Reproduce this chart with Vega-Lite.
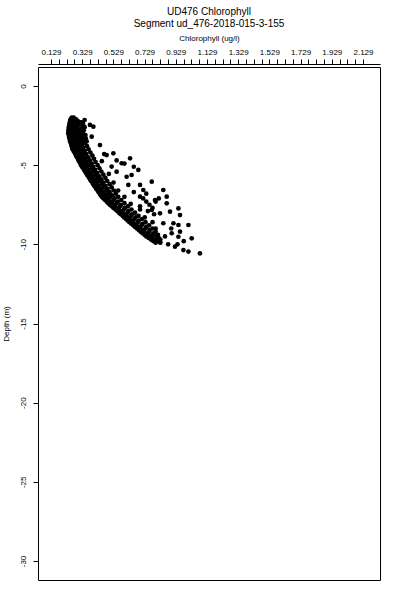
{
  "$schema": "https://vega.github.io/schema/vega-lite/v6.json",
  "width": 342,
  "height": 513,
  "autosize": {"type": "none"},
  "padding": {"left": 38, "top": 67, "right": 20, "bottom": 20},
  "background": "white",
  "title": {
    "text": ["UD476 Chlorophyll", "Segment ud_476-2018-015-3-155"],
    "font": "Liberation Sans",
    "fontSize": 10,
    "fontWeight": "normal",
    "color": "black",
    "lineHeight": 12,
    "anchor": "middle",
    "offset": 5
  },
  "data": {
    "values": [
      {"c": 0.262, "d": -2.0}, {"c": 0.275, "d": -2.0},
      {"c": 0.255, "d": -2.1}, {"c": 0.272, "d": -2.1}, {"c": 0.290, "d": -2.1},
      {"c": 0.252, "d": -2.2}, {"c": 0.270, "d": -2.2}, {"c": 0.300, "d": -2.2},
      {"c": 0.250, "d": -2.3}, {"c": 0.268, "d": -2.3}, {"c": 0.295, "d": -2.3}, {"c": 0.318, "d": -2.3},
      {"c": 0.248, "d": -2.4}, {"c": 0.275, "d": -2.4}, {"c": 0.310, "d": -2.4}, {"c": 0.335, "d": -2.4},
      {"c": 0.246, "d": -2.5}, {"c": 0.262, "d": -2.5}, {"c": 0.290, "d": -2.5}, {"c": 0.330, "d": -2.5},
      {"c": 0.244, "d": -2.6}, {"c": 0.270, "d": -2.6}, {"c": 0.300, "d": -2.6}, {"c": 0.345, "d": -2.6},
      {"c": 0.243, "d": -2.7}, {"c": 0.260, "d": -2.7}, {"c": 0.285, "d": -2.7}, {"c": 0.320, "d": -2.7},
      {"c": 0.242, "d": -2.8}, {"c": 0.268, "d": -2.8}, {"c": 0.305, "d": -2.8}, {"c": 0.340, "d": -2.8},
      {"c": 0.241, "d": -2.9}, {"c": 0.258, "d": -2.9}, {"c": 0.290, "d": -2.9}, {"c": 0.325, "d": -2.9},
      {"c": 0.240, "d": -3.0}, {"c": 0.265, "d": -3.0}, {"c": 0.300, "d": -3.0}, {"c": 0.335, "d": -3.0},
      {"c": 0.244, "d": -3.1}, {"c": 0.275, "d": -3.1}, {"c": 0.310, "d": -3.1}, {"c": 0.350, "d": -3.1},
      {"c": 0.245, "d": -3.2}, {"c": 0.262, "d": -3.2}, {"c": 0.295, "d": -3.2}, {"c": 0.330, "d": -3.2},
      {"c": 0.248, "d": -3.3}, {"c": 0.280, "d": -3.3}, {"c": 0.318, "d": -3.3}, {"c": 0.352, "d": -3.3},
      {"c": 0.250, "d": -3.4}, {"c": 0.270, "d": -3.4}, {"c": 0.300, "d": -3.4}, {"c": 0.340, "d": -3.4},
      {"c": 0.252, "d": -3.5}, {"c": 0.285, "d": -3.5}, {"c": 0.322, "d": -3.5}, {"c": 0.358, "d": -3.5},
      {"c": 0.256, "d": -3.6}, {"c": 0.275, "d": -3.6}, {"c": 0.305, "d": -3.6}, {"c": 0.345, "d": -3.6},
      {"c": 0.260, "d": -3.7}, {"c": 0.290, "d": -3.7}, {"c": 0.330, "d": -3.7},
      {"c": 0.262, "d": -3.8}, {"c": 0.282, "d": -3.8}, {"c": 0.312, "d": -3.8}, {"c": 0.360, "d": -3.8},
      {"c": 0.266, "d": -3.9}, {"c": 0.298, "d": -3.9}, {"c": 0.335, "d": -3.9},
      {"c": 0.268, "d": -4.0}, {"c": 0.290, "d": -4.0}, {"c": 0.322, "d": -4.0}, {"c": 0.370, "d": -4.0},
      {"c": 0.274, "d": -4.1}, {"c": 0.305, "d": -4.1}, {"c": 0.345, "d": -4.1},
      {"c": 0.280, "d": -4.2}, {"c": 0.300, "d": -4.2}, {"c": 0.330, "d": -4.2}, {"c": 0.382, "d": -4.2},
      {"c": 0.286, "d": -4.3}, {"c": 0.315, "d": -4.3}, {"c": 0.355, "d": -4.3},
      {"c": 0.290, "d": -4.4}, {"c": 0.310, "d": -4.4}, {"c": 0.340, "d": -4.4}, {"c": 0.395, "d": -4.4},
      {"c": 0.296, "d": -4.5}, {"c": 0.328, "d": -4.5}, {"c": 0.368, "d": -4.5},
      {"c": 0.302, "d": -4.6}, {"c": 0.322, "d": -4.6}, {"c": 0.352, "d": -4.6}, {"c": 0.405, "d": -4.6},
      {"c": 0.306, "d": -4.7}, {"c": 0.338, "d": -4.7}, {"c": 0.378, "d": -4.7},
      {"c": 0.312, "d": -4.8}, {"c": 0.335, "d": -4.8}, {"c": 0.365, "d": -4.8}, {"c": 0.415, "d": -4.8},
      {"c": 0.318, "d": -4.9}, {"c": 0.350, "d": -4.9}, {"c": 0.390, "d": -4.9},
      {"c": 0.322, "d": -5.0}, {"c": 0.345, "d": -5.0}, {"c": 0.375, "d": -5.0}, {"c": 0.428, "d": -5.0},
      {"c": 0.328, "d": -5.1}, {"c": 0.360, "d": -5.1}, {"c": 0.400, "d": -5.1},
      {"c": 0.336, "d": -5.2}, {"c": 0.358, "d": -5.2}, {"c": 0.390, "d": -5.2}, {"c": 0.440, "d": -5.2},
      {"c": 0.342, "d": -5.3}, {"c": 0.372, "d": -5.3}, {"c": 0.412, "d": -5.3},
      {"c": 0.348, "d": -5.4}, {"c": 0.370, "d": -5.4}, {"c": 0.402, "d": -5.4}, {"c": 0.452, "d": -5.4},
      {"c": 0.354, "d": -5.5}, {"c": 0.385, "d": -5.5}, {"c": 0.425, "d": -5.5},
      {"c": 0.360, "d": -5.6}, {"c": 0.382, "d": -5.6}, {"c": 0.415, "d": -5.6}, {"c": 0.465, "d": -5.6},
      {"c": 0.368, "d": -5.7}, {"c": 0.398, "d": -5.7}, {"c": 0.438, "d": -5.7},
      {"c": 0.374, "d": -5.8}, {"c": 0.395, "d": -5.8}, {"c": 0.428, "d": -5.8}, {"c": 0.478, "d": -5.8},
      {"c": 0.380, "d": -5.9}, {"c": 0.412, "d": -5.9}, {"c": 0.452, "d": -5.9},
      {"c": 0.386, "d": -6.0}, {"c": 0.408, "d": -6.0}, {"c": 0.440, "d": -6.0}, {"c": 0.490, "d": -6.0},
      {"c": 0.394, "d": -6.1}, {"c": 0.425, "d": -6.1}, {"c": 0.465, "d": -6.1},
      {"c": 0.400, "d": -6.2}, {"c": 0.422, "d": -6.2}, {"c": 0.455, "d": -6.2}, {"c": 0.505, "d": -6.2},
      {"c": 0.406, "d": -6.3}, {"c": 0.438, "d": -6.3}, {"c": 0.478, "d": -6.3},
      {"c": 0.414, "d": -6.4}, {"c": 0.435, "d": -6.4}, {"c": 0.468, "d": -6.4}, {"c": 0.518, "d": -6.4},
      {"c": 0.420, "d": -6.5}, {"c": 0.452, "d": -6.5}, {"c": 0.492, "d": -6.5},
      {"c": 0.428, "d": -6.6}, {"c": 0.450, "d": -6.6}, {"c": 0.482, "d": -6.6}, {"c": 0.532, "d": -6.6},
      {"c": 0.434, "d": -6.7}, {"c": 0.466, "d": -6.7}, {"c": 0.506, "d": -6.7},
      {"c": 0.442, "d": -6.8}, {"c": 0.463, "d": -6.8}, {"c": 0.495, "d": -6.8}, {"c": 0.545, "d": -6.8},
      {"c": 0.448, "d": -6.9}, {"c": 0.480, "d": -6.9}, {"c": 0.520, "d": -6.9},
      {"c": 0.455, "d": -7.0}, {"c": 0.478, "d": -7.0}, {"c": 0.510, "d": -7.0}, {"c": 0.560, "d": -7.0},
      {"c": 0.465, "d": -7.1}, {"c": 0.496, "d": -7.1}, {"c": 0.536, "d": -7.1},
      {"c": 0.476, "d": -7.2}, {"c": 0.498, "d": -7.2}, {"c": 0.530, "d": -7.2}, {"c": 0.580, "d": -7.2},
      {"c": 0.486, "d": -7.3}, {"c": 0.518, "d": -7.3}, {"c": 0.558, "d": -7.3},
      {"c": 0.496, "d": -7.4}, {"c": 0.518, "d": -7.4}, {"c": 0.550, "d": -7.4}, {"c": 0.600, "d": -7.4},
      {"c": 0.506, "d": -7.5}, {"c": 0.538, "d": -7.5}, {"c": 0.578, "d": -7.5},
      {"c": 0.518, "d": -7.6}, {"c": 0.540, "d": -7.6}, {"c": 0.572, "d": -7.6}, {"c": 0.622, "d": -7.6},
      {"c": 0.530, "d": -7.7}, {"c": 0.562, "d": -7.7}, {"c": 0.602, "d": -7.7},
      {"c": 0.542, "d": -7.8}, {"c": 0.565, "d": -7.8}, {"c": 0.596, "d": -7.8}, {"c": 0.645, "d": -7.8},
      {"c": 0.554, "d": -7.9}, {"c": 0.585, "d": -7.9}, {"c": 0.625, "d": -7.9},
      {"c": 0.565, "d": -8.0}, {"c": 0.588, "d": -8.0}, {"c": 0.620, "d": -8.0}, {"c": 0.668, "d": -8.0},
      {"c": 0.576, "d": -8.1}, {"c": 0.608, "d": -8.1}, {"c": 0.648, "d": -8.1},
      {"c": 0.588, "d": -8.2}, {"c": 0.610, "d": -8.2}, {"c": 0.642, "d": -8.2}, {"c": 0.690, "d": -8.2},
      {"c": 0.598, "d": -8.3}, {"c": 0.630, "d": -8.3}, {"c": 0.670, "d": -8.3},
      {"c": 0.610, "d": -8.4}, {"c": 0.632, "d": -8.4}, {"c": 0.664, "d": -8.4}, {"c": 0.712, "d": -8.4},
      {"c": 0.620, "d": -8.5}, {"c": 0.652, "d": -8.5}, {"c": 0.692, "d": -8.5},
      {"c": 0.632, "d": -8.6}, {"c": 0.655, "d": -8.6}, {"c": 0.686, "d": -8.6}, {"c": 0.735, "d": -8.6},
      {"c": 0.644, "d": -8.7}, {"c": 0.676, "d": -8.7}, {"c": 0.716, "d": -8.7},
      {"c": 0.656, "d": -8.8}, {"c": 0.678, "d": -8.8}, {"c": 0.710, "d": -8.8}, {"c": 0.758, "d": -8.8},
      {"c": 0.668, "d": -8.9}, {"c": 0.700, "d": -8.9}, {"c": 0.740, "d": -8.9},
      {"c": 0.680, "d": -9.0}, {"c": 0.702, "d": -9.0}, {"c": 0.734, "d": -9.0}, {"c": 0.780, "d": -9.0},
      {"c": 0.692, "d": -9.1}, {"c": 0.724, "d": -9.1}, {"c": 0.762, "d": -9.1},
      {"c": 0.704, "d": -9.2}, {"c": 0.726, "d": -9.2}, {"c": 0.758, "d": -9.2}, {"c": 0.800, "d": -9.2},
      {"c": 0.716, "d": -9.3}, {"c": 0.748, "d": -9.3}, {"c": 0.785, "d": -9.3},
      {"c": 0.728, "d": -9.4}, {"c": 0.750, "d": -9.4}, {"c": 0.780, "d": -9.4}, {"c": 0.815, "d": -9.4},
      {"c": 0.740, "d": -9.5}, {"c": 0.770, "d": -9.5}, {"c": 0.805, "d": -9.5},
      {"c": 0.755, "d": -9.6}, {"c": 0.778, "d": -9.6}, {"c": 0.820, "d": -9.6},
      {"c": 0.770, "d": -9.7}, {"c": 0.800, "d": -9.7}, {"c": 0.830, "d": -9.7},
      {"c": 0.786, "d": -9.8}, {"c": 0.815, "d": -9.8},
      {"c": 0.800, "d": -9.9}, {"c": 0.830, "d": -9.9},
      {"c": 0.345, "d": -2.15}, {"c": 0.330, "d": -2.30},
      {"c": 0.379, "d": -2.46}, {"c": 0.401, "d": -2.57}, {"c": 0.390, "d": -3.20},
      {"c": 0.443, "d": -3.73}, {"c": 0.486, "d": -4.36}, {"c": 0.529, "d": -4.25},
      {"c": 0.636, "d": -4.57}, {"c": 0.582, "d": -4.88}, {"c": 0.518, "d": -5.09},
      {"c": 0.550, "d": -5.41}, {"c": 0.689, "d": -5.30}, {"c": 0.614, "d": -5.73},
      {"c": 0.646, "d": -5.62}, {"c": 0.625, "d": -6.25}, {"c": 0.700, "d": -6.25},
      {"c": 0.775, "d": -6.04}, {"c": 0.721, "d": -6.57}, {"c": 0.700, "d": -6.99},
      {"c": 0.849, "d": -6.57}, {"c": 0.871, "d": -6.99}, {"c": 0.871, "d": -7.41},
      {"c": 0.796, "d": -7.20}, {"c": 0.775, "d": -7.83}, {"c": 0.828, "d": -8.04},
      {"c": 0.892, "d": -7.94}, {"c": 0.946, "d": -7.73}, {"c": 0.956, "d": -8.15},
      {"c": 0.914, "d": -8.67}, {"c": 0.849, "d": -8.67}, {"c": 0.946, "d": -8.78},
      {"c": 1.010, "d": -8.78}, {"c": 1.031, "d": -9.62}, {"c": 0.956, "d": -9.20},
      {"c": 0.903, "d": -9.30}, {"c": 0.828, "d": -9.83}, {"c": 0.924, "d": -10.15},
      {"c": 0.978, "d": -10.36}, {"c": 1.010, "d": -10.46}, {"c": 1.084, "d": -10.57},
      {"c": 0.946, "d": -9.52},
      {"c": 0.470, "d": -4.30}, {"c": 0.455, "d": -4.75}, {"c": 0.500, "d": -5.55},
      {"c": 0.530, "d": -6.10}, {"c": 0.560, "d": -6.60}, {"c": 0.600, "d": -7.00},
      {"c": 0.640, "d": -7.45}, {"c": 0.700, "d": -7.60}, {"c": 0.730, "d": -8.30},
      {"c": 0.780, "d": -8.60}, {"c": 0.800, "d": -9.00}, {"c": 0.860, "d": -9.50},
      {"c": 0.880, "d": -10.00}, {"c": 0.740, "d": -6.80}, {"c": 0.660, "d": -6.70},
      {"c": 0.720, "d": -7.10}, {"c": 0.740, "d": -7.30}, {"c": 0.760, "d": -7.50},
      {"c": 0.780, "d": -7.70}, {"c": 0.800, "d": -7.30}, {"c": 0.820, "d": -7.10},
      {"c": 0.750, "d": -7.90}, {"c": 0.790, "d": -8.10}, {"c": 0.700, "d": -7.80},
      {"c": 0.550, "d": -4.70}, {"c": 0.600, "d": -4.90}, {"c": 0.660, "d": -5.10},
      {"c": 0.900, "d": -9.00}, {"c": 0.980, "d": -9.80}, {"c": 0.940, "d": -10.00}
    ]
  },
  "mark": {"type": "point", "filled": true, "shape": "circle", "color": "black", "opacity": 1, "size": 22},
  "encoding": {
    "x": {
      "field": "c",
      "type": "quantitative",
      "scale": {"domain": [0.046, 2.238], "nice": false, "zero": false},
      "axis": {
        "orient": "top",
        "title": "Chlorophyll (ug/l)",
        "values": [0.129,0.179,0.229,0.279,0.329,0.379,0.429,0.479,0.529,0.579,0.629,0.679,0.729,0.779,0.829,0.879,0.929,0.979,1.029,1.079,1.129,1.179,1.229,1.279,1.329,1.379,1.429,1.479,1.529,1.579,1.629,1.679,1.729,1.779,1.829,1.879,1.929,1.979,2.029,2.079,2.129],
        "labelExpr": "(round((datum.value - 0.129) * 100) % 20 == 0) ? format(datum.value, '.3f') : ''",
        "labelOverlap": false,
        "labelFlush": false,
        "grid": false,
        "offset": 3,
        "tickSize": 5,
        "labelPadding": 3,
        "titlePadding": 6
      }
    },
    "y": {
      "field": "d",
      "type": "quantitative",
      "scale": {"domain": [-31.2, 1.2], "nice": false, "zero": false},
      "axis": {
        "title": "Depth (m)",
        "values": [0, -5, -10, -15, -20, -25, -30],
        "labelExpr": "'' + datum.value",
        "labelAngle": -90,
        "labelAlign": "center",
        "labelBaseline": "bottom",
        "labelOverlap": false,
        "labelFlush": false,
        "grid": false,
        "domain": false,
        "tickSize": 5,
        "labelPadding": 6,
        "titlePadding": 9
      }
    }
  },
  "config": {
    "view": {"stroke": "black", "strokeWidth": 1},
    "axis": {
      "domainColor": "black",
      "tickColor": "black",
      "labelColor": "black",
      "titleColor": "black",
      "labelFont": "Liberation Sans",
      "titleFont": "Liberation Sans",
      "labelFontSize": 8,
      "titleFontSize": 8,
      "titleFontWeight": "normal",
      "domainWidth": 1,
      "tickWidth": 1
    }
  }
}
